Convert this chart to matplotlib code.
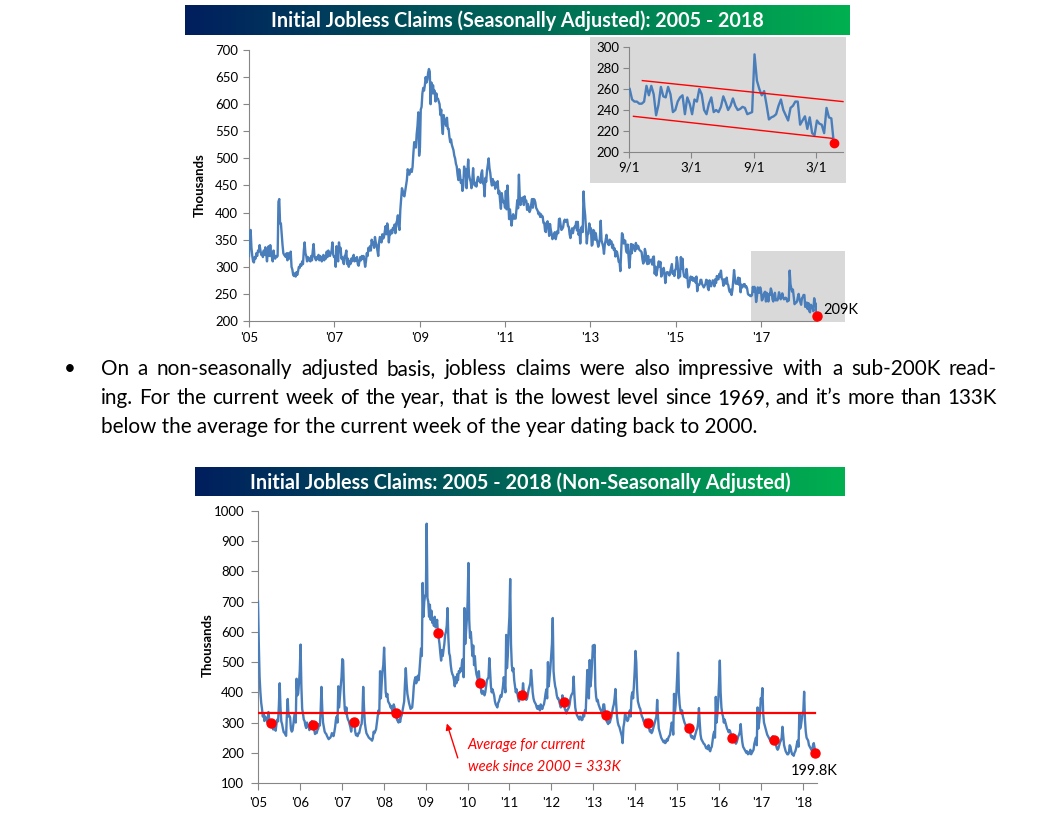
import numpy as np
import pandas as pd
import matplotlib
matplotlib.use('Agg')
import matplotlib.pyplot as plt
import matplotlib.dates as mdates
from matplotlib.patches import Rectangle

plt.rcParams['font.family'] = ['Lato', 'DejaVu Sans']

# ---------------- data: seasonally adjusted weekly claims (thousands) ----------------
sa_2005 = [320, 360, 368, 335, 320, 310, 308, 318, 315, 325, 320, 330, 328,
           340, 330, 322, 325, 318, 330, 322, 336, 325, 310, 328, 338, 320,
           340, 322, 318, 310, 330, 318, 315, 320, 318, 320, 420, 425, 380,
           380, 360, 340, 325, 322, 320, 318, 325, 312, 325, 320, 315, 328, 300]
sa_2006 = [295, 285, 283, 288, 282, 290, 285, 292, 300, 298, 305, 302,
           310, 305, 330, 345, 325, 320, 310, 318, 312, 315, 310, 320, 312,
           330, 342, 320, 315, 312, 318, 315, 322, 312, 320, 315, 310, 318, 322,
           312, 320, 315, 328, 318, 330, 322, 320, 325, 330, 345, 322, 318]
sa_2007 = [320, 300, 338, 318, 310, 345, 330, 335, 315, 318, 310, 305, 320,
           322, 330, 305, 315, 300, 310, 305, 315, 310, 318, 322, 310, 315,
           312, 318, 305, 302, 310, 318, 312, 320, 315, 320, 312, 300, 310,
           325, 320, 335, 330, 338, 330, 350, 342, 345, 335, 355, 345, 340]
sa_2008 = [330, 320, 345, 355, 350, 345, 360, 352, 355, 365, 375, 360, 380,
           370, 345, 365, 360, 368, 362, 372, 368, 378, 362, 380, 385, 395,
           375, 368, 405, 425, 445, 440, 432, 430, 440, 450, 460, 480, 475,
           470, 478, 480, 475, 485, 510, 530, 525, 520, 545, 560, 585, 505]
sa_2009 = [520, 590, 595, 620, 630, 625, 635, 650, 640, 645, 658, 665, 660,
           600, 640, 620, 635, 620, 625, 605, 620, 610, 610, 605, 600, 580,
           590, 560, 545, 580, 570, 565, 560, 575, 555, 555, 540, 530, 535,
           525, 520, 515, 505, 500, 490, 485, 470, 460, 480, 470, 455, 460]
sa_2010 = [440, 450, 485, 470, 480, 445, 475, 498, 470, 462, 457, 445, 460,
           482, 456, 450, 455, 448, 460, 466, 458, 460, 455, 472, 478, 454,
           455, 430, 464, 457, 478, 488, 500, 482, 473, 458, 450, 462, 452,
           457, 444, 454, 448, 458, 435, 440, 421, 407, 436, 425, 419, 420]
sa_2011 = [409, 440, 406, 450, 418, 388, 406, 391, 376, 391, 397, 389, 390,
           389, 405, 423, 408, 470, 430, 414, 425, 427, 428, 414, 430, 420,
           422, 405, 416, 408, 401, 405, 415, 425, 409, 425, 424, 419, 409,
           406, 403, 397, 400, 392, 397, 392, 393, 381, 381, 366, 364, 381, 384]
sa_2012 = [376, 357, 379, 368, 361, 351, 354, 361, 364, 351, 359, 366, 362,
           388, 389, 377, 368, 370, 373, 383, 387, 383, 386, 387, 375, 374,
           360, 353, 364, 371, 362, 370, 374, 373, 383, 367, 383, 359, 367,
           343, 371, 374, 364, 439, 410, 395, 371, 343, 361, 361, 380, 371]
sa_2013 = [371, 339, 341, 368, 366, 350, 362, 351, 345, 337, 343, 353, 385,
           349, 343, 337, 324, 341, 349, 359, 348, 342, 340, 350, 343, 347,
           335, 341, 331, 334, 319, 329, 327, 319, 309, 310, 292, 325, 362,
           359, 343, 349, 348, 331, 326, 341, 320, 298, 317, 342, 325, 341]
sa_2014 = [339, 335, 329, 344, 333, 339, 338, 332, 330, 329, 327, 314, 306,
           310, 333, 326, 310, 305, 320, 306, 312, 313, 313, 304, 318, 319,
           287, 300, 284, 293, 303, 310, 300, 309, 282, 285, 295, 298, 288,
           270, 284, 290, 290, 288, 284, 291, 298, 305, 287, 292, 283, 294]
sa_2015 = [297, 318, 307, 279, 289, 282, 318, 296, 315, 291, 282, 282, 280,
           296, 282, 262, 265, 274, 282, 276, 281, 274, 277, 279, 271, 282,
           255, 267, 266, 268, 276, 276, 268, 265, 262, 265, 268, 276, 275,
           261, 257, 275, 267, 264, 270, 275, 274, 264, 277, 270, 283, 277]
sa_2016_jan_aug = [277, 287, 282, 293, 278, 276, 265, 277, 270, 269, 280, 269,
                   266, 257, 253, 258, 248, 257, 274, 294, 280, 269, 270, 269,
                   280, 267, 279, 253, 267, 262, 264, 268, 268, 262, 264]
sa_2016_sep_dec = [260, 250, 248, 248, 246, 246, 248, 263, 254, 263, 255, 235,
                   245, 262, 253, 252, 262, 255]
sa_2017 = [238, 240, 248, 252, 254, 236, 252, 246, 236, 250, 248, 260, 255,
           240, 236, 246, 252, 238, 240, 238, 243, 253, 247, 240, 244, 251,
           244, 240, 241, 243, 242, 236, 237, 238, 293, 268, 260, 254, 258,
           245, 231, 233, 234, 236, 244, 250, 240, 235, 230, 242, 244, 248]
sa_2018 = [248, 226, 230, 234, 222, 233, 218, 216, 230, 227, 226, 218, 242,
           233, 232, 209]

# ---------------- data: non-seasonally adjusted weekly claims (thousands) ----------------
nsa_2005 = [700, 560, 450, 400, 365, 345, 320, 330, 305, 320, 310, 312, 300,
            335, 310, 298, 300, 285, 287, 277, 286, 283, 273, 295, 310, 304,
            357, 430, 350, 304, 295, 280, 268, 266, 261, 256, 330, 378, 320,
            323, 317, 279, 270, 274, 294, 318, 330, 300, 445, 390, 395, 430, 470]
nsa_2006 = [558, 420, 345, 330, 310, 305, 290, 282, 300, 290, 288, 275,
            300, 290, 305, 292, 290, 275, 262, 268, 265, 275, 280, 295, 290,
            340, 418, 345, 300, 285, 270, 265, 262, 255, 250, 245, 248, 250, 255,
            265, 262, 255, 268, 285, 310, 320, 300, 420, 350, 385, 420, 450]
nsa_2007 = [510, 505, 400, 345, 330, 350, 320, 310, 305, 295, 285, 270, 290,
            305, 290, 303, 270, 258, 262, 255, 265, 265, 278, 290, 295, 330,
            418, 350, 300, 280, 265, 260, 255, 250, 248, 245, 245, 240, 248,
            270, 265, 272, 278, 300, 320, 340, 330, 470, 380, 430, 470, 490]
nsa_2008 = [548, 470, 400, 385, 395, 370, 365, 360, 350, 355, 340, 330, 360,
            350, 320, 330, 310, 305, 300, 310, 302, 318, 325, 340, 355, 370,
            430, 480, 430, 395, 380, 365, 355, 345, 348, 350, 380, 420, 440,
            450, 430, 445, 455, 440, 470, 510, 545, 520, 762, 650, 700, 720]
nsa_2009 = [720, 958, 712, 700, 650, 690, 640, 670, 630, 640, 620, 650, 615,
            620, 640, 597, 580, 560, 530, 505, 540, 520, 540, 560, 590, 600,
            620, 679, 580, 530, 520, 490, 470, 460, 455, 440, 420, 450, 430,
            460, 440, 470, 465, 480, 470, 500, 510, 450, 679, 560, 600, 640]
nsa_2010 = [700, 828, 640, 580, 600, 560, 520, 555, 490, 520, 480, 460, 450,
            440, 470, 430, 431, 400, 395, 405, 400, 390, 400, 420, 440, 445,
            450, 513, 470, 420, 400, 410, 400, 390, 370, 360, 355, 350, 365,
            370, 380, 390, 385, 400, 420, 450, 430, 400, 590, 480, 520, 600]
nsa_2011 = [650, 775, 560, 490, 470, 480, 440, 420, 400, 410, 395, 380, 370,
            400, 390, 395, 390, 430, 400, 380, 385, 375, 380, 395, 410, 420,
            430, 474, 440, 400, 380, 370, 365, 360, 350, 345, 355, 350, 340,
            360, 350, 345, 355, 360, 375, 395, 410, 380, 500, 420, 450, 480, 520]
nsa_2012 = [560, 646, 470, 440, 420, 410, 390, 380, 380, 370, 360, 350, 360,
            390, 370, 369, 345, 340, 330, 340, 345, 350, 360, 380, 390, 395,
            400, 452, 390, 350, 335, 325, 320, 315, 310, 320, 315, 308, 310,
            330, 320, 340, 335, 400, 474, 420, 380, 507, 420, 450, 500, 555]
nsa_2013 = [520, 557, 420, 385, 370, 375, 360, 352, 345, 340, 330, 335, 360,
            360, 335, 325, 305, 300, 295, 305, 300, 310, 320, 335, 350, 360,
            380, 411, 360, 320, 300, 290, 285, 275, 265, 255, 232, 285, 300,
            330, 320, 310, 305, 310, 330, 340, 320, 385, 400, 380, 420, 470]
nsa_2014 = [537, 500, 410, 370, 360, 350, 345, 330, 320, 315, 305, 300, 305,
            310, 300, 300, 290, 280, 270, 275, 265, 270, 280, 290, 300, 310,
            320, 375, 320, 280, 270, 260, 250, 245, 240, 235, 240, 232, 235,
            245, 240, 250, 255, 260, 280, 300, 295, 260, 395, 330, 360, 400]
nsa_2015 = [460, 531, 400, 360, 340, 330, 340, 320, 310, 300, 295, 285, 280,
            290, 285, 282, 270, 255, 250, 255, 250, 245, 255, 265, 275, 280,
            300, 348, 300, 260, 245, 240, 235, 230, 228, 222, 215, 218, 212,
            225, 210, 205, 215, 220, 240, 260, 270, 250, 385, 300, 330, 370]
nsa_2016 = [430, 505, 400, 350, 330, 320, 300, 310, 300, 290, 280, 275, 268,
            275, 270, 258, 249, 245, 260, 250, 235, 230, 235, 245, 255, 260,
            270, 295, 260, 235, 220, 215, 210, 205, 200, 205, 195, 200, 198,
            210, 195, 200, 205, 210, 230, 240, 250, 225, 350, 280, 300, 330, 380]
nsa_2017 = [370, 414, 330, 300, 290, 280, 270, 260, 255, 250, 245, 240,
            245, 250, 255, 243, 230, 235, 225, 215, 210, 215, 225, 235, 240,
            250, 286, 255, 225, 215, 205, 200, 195, 195, 200, 225, 220, 205, 195,
            195, 190, 200, 205, 215, 230, 240, 220, 330, 280, 290, 310, 330]
nsa_2018 = [340, 402, 310, 270, 250, 245, 240, 225, 220, 215, 210, 205, 225,
            232, 215, 199.8]

avg_current_week = 333          # average for current week since 2000
dot_month_day = (4, 21)         # "current week of the year"
inset_start = '2016-09-01'
series_end = '2018-04-21'

main_title = 'Initial Jobless Claims (Seasonally Adjusted): 2005 - 2018'
bottom_title = 'Initial Jobless Claims: 2005 - 2018 (Non-Seasonally Adjusted)'
paragraph = ['On a non-seasonally adjusted basis, jobless claims were also impressive with a sub-200K read-',
             'ing.  For the current week of the year, that is the lowest level since 1969, and it\u2019s more than 133K',
             'below the average for the current week of the year dating back to 2000.']
annot_lines = ['Average for current', 'week since 2000 = 333K']

sa_by_year = {2005: sa_2005, 2006: sa_2006, 2007: sa_2007, 2008: sa_2008, 2009: sa_2009,
              2010: sa_2010, 2011: sa_2011, 2012: sa_2012, 2013: sa_2013, 2014: sa_2014,
              2015: sa_2015, 2016: sa_2016_jan_aug + sa_2016_sep_dec, 2017: sa_2017, 2018: sa_2018}
nsa_by_year = {2005: nsa_2005, 2006: nsa_2006, 2007: nsa_2007, 2008: nsa_2008, 2009: nsa_2009,
               2010: nsa_2010, 2011: nsa_2011, 2012: nsa_2012, 2013: nsa_2013, 2014: nsa_2014,
               2015: nsa_2015, 2016: nsa_2016, 2017: nsa_2017, 2018: nsa_2018}


def build(by_year):
    ds, vs = [], []
    for y, vals in by_year.items():
        end = series_end if y == 2018 else f'{y}-12-31'
        d = pd.date_range(f'{y}-01-01', end, freq='W-SAT')
        n = min(len(d), len(vals))
        ds.extend(d[:n]); vs.extend(vals[:n])
    return pd.DatetimeIndex(ds), np.array(vs, dtype=float)


sa_dates, sa_vals = build(sa_by_year)
nsa_dates, nsa_vals = build(nsa_by_year)

# ---------------- figure ----------------
W, H = 1038, 833
fig = plt.figure(figsize=(W / 100, H / 100), dpi=100)
fig.patch.set_facecolor('white')


def rect(left, top, right, bottom):
    return [left / W, 1 - bottom / H, (right - left) / W, (bottom - top) / H]


BLUE = '#4a7ebb'
GREY = '#868686'
TICKFS = 9.5


def style(ax, length=4, pad=3):
    for s in ['top', 'right']:
        ax.spines[s].set_visible(False)
    for s in ['left', 'bottom']:
        ax.spines[s].set_color(GREY)
        ax.spines[s].set_linewidth(0.8)
    ax.tick_params(direction='out', length=length, width=0.8, color=GREY,
                   labelsize=TICKFS, pad=pad, labelcolor='black')


renderer = fig.canvas.get_renderer()


def fit_width(t, target_px):
    w = t.get_window_extent(renderer).width
    t.set_fontsize(t.get_fontsize() * target_px / w)


def banner(left, top, right, bottom, text, text_w):
    bax = fig.add_axes(rect(left, top, right, bottom))
    g = np.linspace(0, 1, 400)[:, None]
    c0 = np.array([0, 30, 94]) / 255
    c1 = np.array([0, 176, 80]) / 255
    img = c0 * (1 - g) + c1 * g
    bax.imshow(img[None, :, :], aspect='auto', extent=[0, 1, 0, 1])
    bax.set_axis_off()
    t = bax.text(0.5, 0.47, text, color='white', fontweight='bold', fontsize=12,
                 ha='center', va='center', transform=bax.transAxes)
    fit_width(t, text_w)


# ---------- top chart ----------
banner(185, 5, 850, 35, main_title, 488)

ax1 = fig.add_axes(rect(249, 50, 817, 321))
ax1.set_facecolor('none')
style(ax1, length=4, pad=4)
ax1.plot(sa_dates, sa_vals, color=BLUE, lw=1.7, zorder=3)
ax1.set_ylim(200, 700)
ax1.set_yticks(range(200, 701, 50))
ax1.set_xlim(pd.Timestamp('2005-01-01'), pd.Timestamp('2018-04-24'))
yrs = list(range(2005, 2018, 2))
ax1.set_xticks([pd.Timestamp(f'{y}-01-01') for y in yrs])
ax1.set_xticklabels([f"'{y % 100:02d}" for y in yrs])

# grey highlight box behind the recent period
x0 = mdates.date2num(pd.Timestamp('2016-10-05'))
x1 = mdates.date2num(pd.Timestamp('2018-12-20'))
ax1.add_patch(Rectangle((x0, 198), x1 - x0, 132, facecolor='#d9d9d9', edgecolor='none',
                        zorder=1, clip_on=False))
# inset background panel
ax1.add_patch(Rectangle((590 / W, 1 - 183 / H), (846 - 590) / W, (183 - 37) / H,
                        transform=fig.transFigure, facecolor='#d9d9d9', edgecolor='none',
                        zorder=0.5, clip_on=False))
ax1.plot(sa_dates[-1:], sa_vals[-1:], 'o', color='red', ms=6.5, zorder=5, clip_on=False)
ax1.annotate(f'{sa_vals[-1]:.0f}K', (sa_dates[-1], sa_vals[-1]), xytext=(4.5, 4.5),
             textcoords='offset points', ha='left', va='center', fontsize=10.5)
fig.text(200 / W, 1 - 185 / H, 'Thousands', rotation=90, fontweight='bold',
         fontsize=9.5, ha='center', va='center')

# ---------- inset ----------
ax2 = fig.add_axes(rect(629, 47, 843, 152))
ax2.set_facecolor('none')
style(ax2, length=4, pad=3)
m = sa_dates >= pd.Timestamp(inset_start)
ax2.plot(sa_dates[m], sa_vals[m], color=BLUE, lw=1.7, zorder=3)
ax2.set_ylim(200, 300)
ax2.set_yticks(range(200, 301, 20))
ax2.set_xlim(pd.Timestamp(inset_start), pd.Timestamp('2018-05-18'))
inset_ticks = ['2016-09-01', '2017-03-01', '2017-09-01', '2018-03-01']
ax2.set_xticks([pd.Timestamp(t) for t in inset_ticks])
ax2.set_xticklabels([f'{pd.Timestamp(t).month}/{pd.Timestamp(t).day}' for t in inset_ticks])
trend_upper_dates = ['2016-10-10', '2018-05-18']
trend_upper_vals = [268, 248]
trend_lower_dates = ['2016-09-14', '2018-04-16']
trend_lower_vals = [234, 213]
ax2.plot(pd.to_datetime(trend_upper_dates), trend_upper_vals, color='red', lw=1.0, zorder=4, clip_on=False)
ax2.plot(pd.to_datetime(trend_lower_dates), trend_lower_vals, color='red', lw=1.0, zorder=4, clip_on=False)
ax2.plot(sa_dates[-1:], sa_vals[-1:], 'o', color='red', ms=6, zorder=5, clip_on=False)

# ---------- paragraph ----------
PL, PR = 101, 997
base = [375, 404, 433]
probe = [fig.text(0, 0, s, fontsize=13) for s in paragraph[:2]]
ws = [p.get_window_extent(renderer).width for p in probe]
for p in probe:
    p.remove()
pfs = 13 * min((PR - PL) / w for w in ws) * 0.985
fig.text(70 / W, 1 - base[0] / H, '\u2022', fontsize=pfs, ha='center', va='baseline')
for line, by in zip(paragraph[:2], base[:2]):
    words = line.split()
    objs = [fig.text(0, 1 - by / H, w, fontsize=pfs, ha='left', va='baseline') for w in words]
    widths = [o.get_window_extent(renderer).width for o in objs]
    gap = (PR - PL - sum(widths)) / (len(words) - 1)
    x = PL
    for o, w in zip(objs, widths):
        o.set_x(x / W)
        x += w + gap
fig.text(PL / W, 1 - base[2] / H, paragraph[2], fontsize=pfs, ha='left', va='baseline')

# ---------- bottom chart ----------
banner(195, 467, 845, 496, bottom_title, 536)

ax3 = fig.add_axes(rect(258, 511, 817, 783))
ax3.set_facecolor('none')
style(ax3, length=5, pad=5)
ax3.plot(nsa_dates, nsa_vals, color=BLUE, lw=1.7, zorder=3)
ax3.plot([nsa_dates[0], nsa_dates[-1]], [avg_current_week, avg_current_week],
         color='red', lw=1.6, zorder=4)
dot_idx = []
for y in sorted(nsa_by_year):
    target = pd.Timestamp(year=y, month=dot_month_day[0], day=dot_month_day[1])
    dot_idx.append(int(np.argmin(np.abs((nsa_dates - target).days))))
ax3.plot(nsa_dates[dot_idx], nsa_vals[dot_idx], 'o', color='red', ms=6.5, zorder=5, clip_on=False)
ax3.set_ylim(100, 1000)
ax3.set_yticks(range(100, 1001, 100))
ax3.set_xlim(pd.Timestamp('2005-01-01'), pd.Timestamp('2018-05-05'))
yrs3 = list(range(2005, 2019))
ax3.set_xticks([pd.Timestamp(f'{y}-01-01') for y in yrs3])
ax3.set_xticklabels([f"'{y % 100:02d}" for y in yrs3])
ax3.annotate(f'{nsa_vals[-1]:.1f}K', (nsa_dates[-1], nsa_vals[-1]), xytext=(-1, -13),
             textcoords='offset points', ha='center', va='center', fontsize=10.5)
ax3.annotate('', xy=(pd.Timestamp('2009-07-05'), 297), xytext=(pd.Timestamp('2009-10-08'), 183),
             arrowprops=dict(arrowstyle='-|>', color='red', lw=1.0, mutation_scale=9,
                             shrinkA=0, shrinkB=0))
ax3.text(pd.Timestamp('2010-01-01'), 226, annot_lines[0], color='red', style='italic',
         fontsize=10.5, ha='left', va='center')
ax3.text(pd.Timestamp('2010-01-01'), 153, annot_lines[1], color='red', style='italic',
         fontsize=10.5, ha='left', va='center')
fig.text(208 / W, 1 - 645 / H, 'Thousands', rotation=90, fontweight='bold',
         fontsize=9.5, ha='center', va='center')

fig.savefig('out.png', dpi=100, facecolor='white')
